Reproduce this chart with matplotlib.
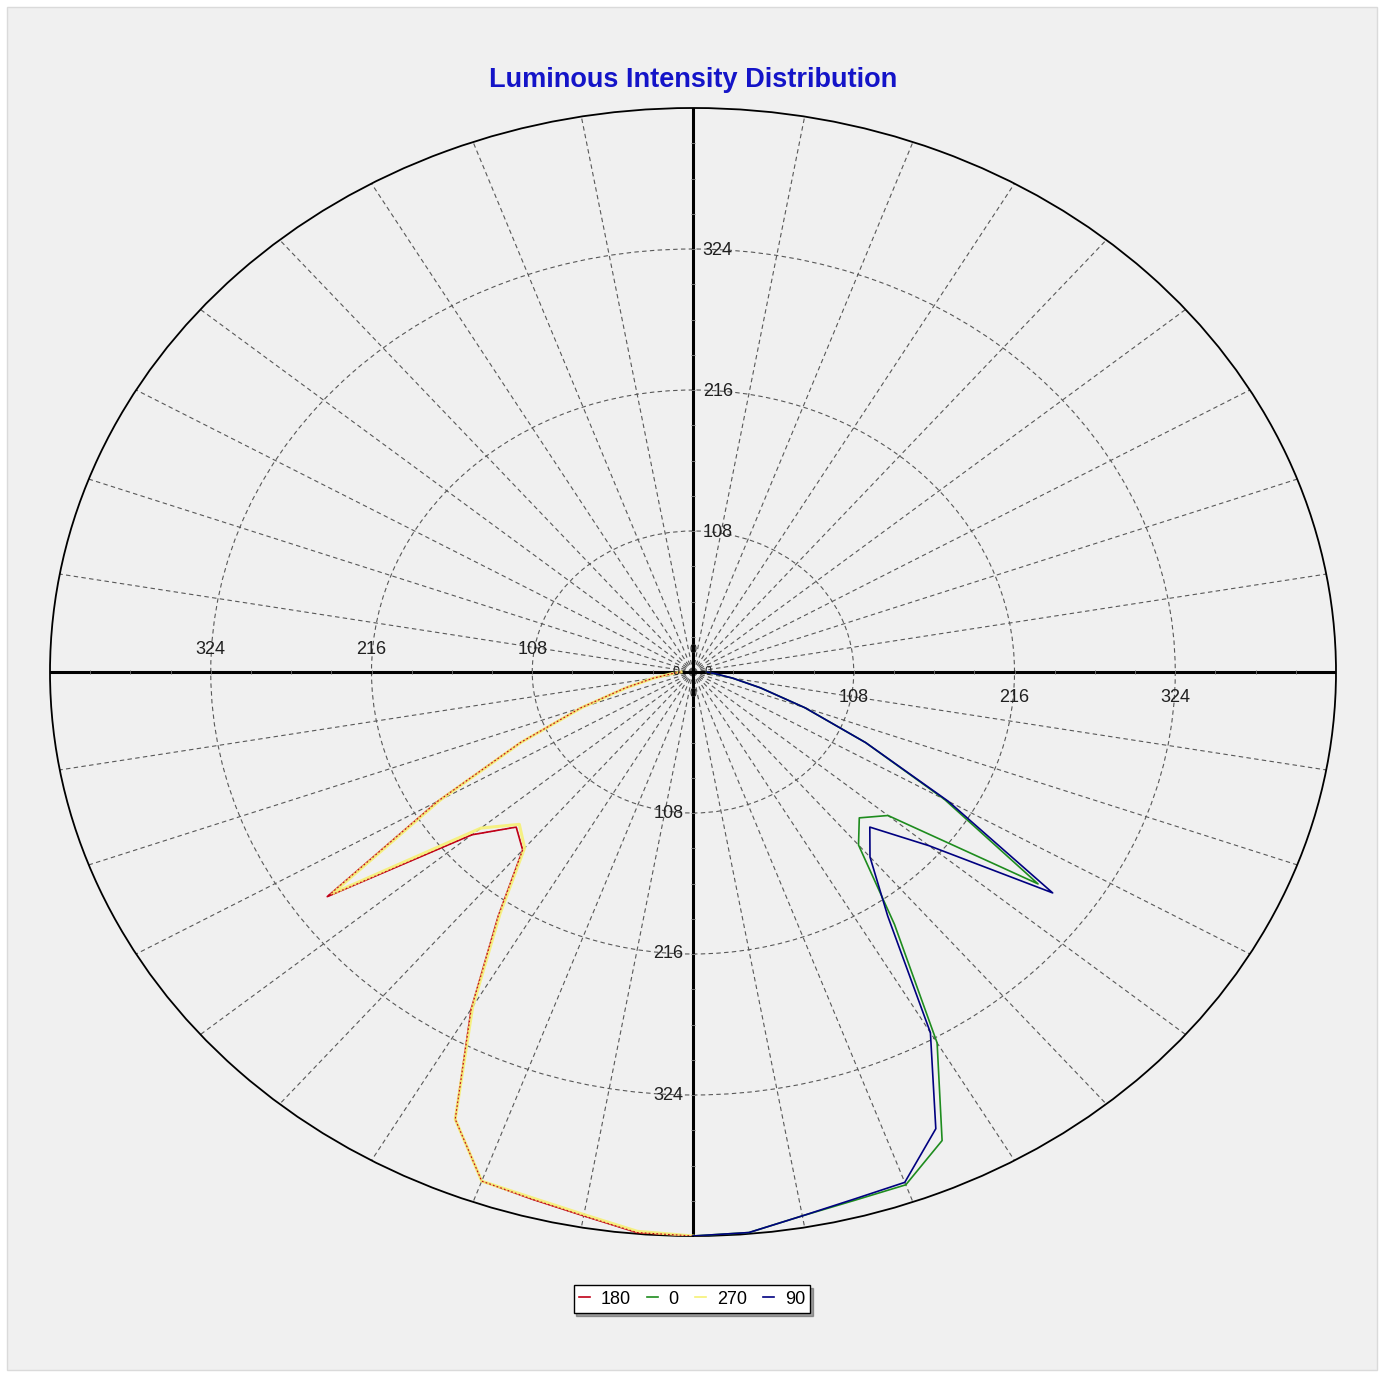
import numpy as np
import matplotlib
matplotlib.use("Agg")
import matplotlib.pyplot as plt
from matplotlib.patches import Rectangle

plt.rcParams["font.family"] = ["Liberation Sans", "DejaVu Sans"]

# gamma angles (deg from nadir) and intensities
gamma = [0, 5, 10, 15, 20, 25, 30, 35, 40, 45, 50, 55, 60, 65, 70, 75, 80, 85, 90]
c0 = [432, 431, 423, 419, 418, 396, 328, 236, 173, 158, 171, 283, 195, 128, 80, 47, 27, 14, 9]
c90 = [432, 431, 423, 418, 416, 386, 319, 228, 185, 168, 207, 295, 198, 128, 80, 47, 27, 15, 9]
c180 = [432, 431, 423, 418, 415, 378, 298, 228, 178, 168, 194, 300, 198, 128, 80, 47, 27, 14, 8]
c270 = [432, 430, 422, 417, 415, 378, 296, 226, 176, 165, 186, 296, 196, 127, 79, 46, 27, 14, 8]

ring_ticks = [108, 216, 324]
r_max = 432
minor_step = 27

Color = {
    "red": "#C00018",
    "green": "#1E8C1E",
    "yellow": "#F6F176",
    "blue": "#000080",
    "title": "#1414C8",
    "grid": "#585858",
}

W, H = 1382, 1374
fig = plt.figure(figsize=(W / 100, H / 100), dpi=100, facecolor="white")
fig.patches.append(Rectangle((7 / W, 4 / H), 1370 / W, 1363 / H, transform=fig.transFigure,
                             facecolor="#F0F0F0", edgecolor="#DADADA", lw=1.0, zorder=-10))

# elliptical polar axes
ax = fig.add_axes([50 / W, 1 - 1236 / H, 1286 / W, 1128 / H], projection="polar")
ax.set_zorder(1)
ax.set_aspect("auto")
ax.set_facecolor("none")
ax.set_theta_zero_location("S")
ax.set_theta_direction(1)
ax.set_rlim(0, r_max)
ax.set_rticks(ring_ticks)
ax.set_yticklabels([])
ax.set_thetagrids(range(0, 360, 10), labels=[""] * 36)
ax.grid(True, color=Color["grid"], ls=(0, (4, 3)), lw=0.8)
ax.spines["polar"].set_linewidth(1.3)
ax.spines["polar"].set_color("black")
ax.tick_params(length=0)

# main axes crosses
for th in [0, 90, 180, 270]:
    ax.plot([np.deg2rad(th)] * 2, [0, r_max], color="black", lw=2.2, zorder=3)

minor = np.arange(minor_step, r_max, minor_step)
for th, m in [(90, "|"), (-90, "|"), (0, "_"), (180, "_")]:
    ax.plot([np.deg2rad(th)] * len(minor), minor, ls="none", marker=m, ms=3.5, mew=0.6,
            color="#707070", zorder=3)

# curves
g = np.deg2rad(gamma)
ax.plot(-g, c180, color=Color["red"], lw=1.2, zorder=4)
ax.plot(-g, c270, color=Color["yellow"], lw=2.2, alpha=0.9, zorder=4)
ax.plot(-g, c180, color=Color["red"], lw=0.8, ls=(0, (1.5, 2)), zorder=5)
ax.plot(g, c0, color=Color["green"], lw=1.2, zorder=4)
ax.plot(g, c90, color=Color["blue"], lw=1.2, zorder=5)

# radial tick labels
lab_kw = dict(textcoords="offset points", fontsize=13, color="#202020", zorder=6)
for r in ring_ticks:
    ax.annotate(str(r), xy=(np.deg2rad(-90), r), xytext=(0, 16.5), ha="center", va="center", **lab_kw)
    ax.annotate(str(r), xy=(np.deg2rad(90), r), xytext=(0, -18), ha="center", va="center", **lab_kw)
    ax.annotate(str(r), xy=(np.deg2rad(180), r), xytext=(7, -1), ha="left", va="center", **lab_kw)
    ax.annotate(str(r), xy=(0, r), xytext=(-7, 0), ha="right", va="center", **lab_kw)

zero_kw = dict(textcoords="offset points", fontsize=9, color="#202020", ha="center", va="center", zorder=6)
ax.annotate("0", xy=(0, 0), xytext=(0, 16), **zero_kw)
ax.annotate("0", xy=(0, 0), xytext=(0, -16), **zero_kw)
ax.annotate("0", xy=(0, 0), xytext=(-12, 0), **zero_kw)
ax.annotate("0", xy=(0, 0), xytext=(11, 0), **zero_kw)

fig.text(693 / W, 1 - 80 / H, "Luminous Intensity Distribution", ha="center", va="center",
         fontsize=19.5, fontweight="bold", color=Color["title"])

handles = [
    plt.Line2D([], [], color=Color["red"], lw=1.2),
    plt.Line2D([], [], color=Color["green"], lw=1.2),
    plt.Line2D([], [], color=Color["yellow"], lw=1.2),
    plt.Line2D([], [], color=Color["blue"], lw=1.2),
]
leg = fig.legend(handles, ["180", "0", "270", "90"], loc="center",
                 bbox_to_anchor=(692 / W, 1 - 1299 / H), ncol=4, fontsize=13,
                 frameon=True, fancybox=False, shadow=True, handlelength=0.6,
                 handletextpad=0.6, columnspacing=0.9, borderpad=0.3)
leg.get_frame().set_edgecolor("black")
leg.get_frame().set_facecolor("white")
leg.get_frame().set_linewidth(1.0)

fig.savefig("out.png", dpi=100, facecolor=fig.get_facecolor())
